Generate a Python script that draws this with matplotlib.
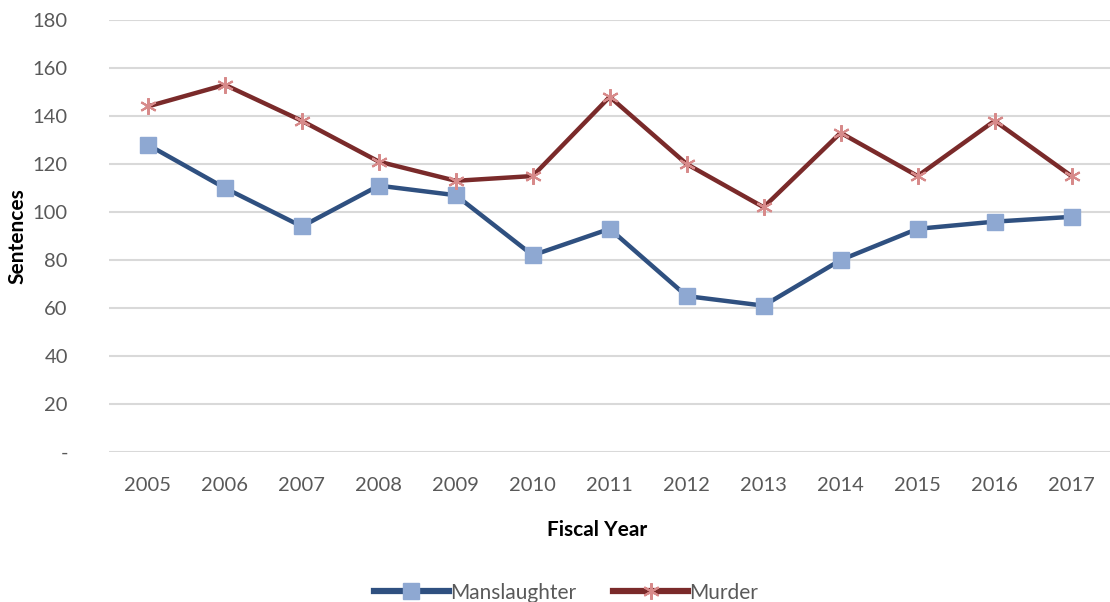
import matplotlib.pyplot as plt
from matplotlib.ticker import FuncFormatter

plt.rcParams["font.family"] = ["Lato", "DejaVu Sans"]

years = ["2005", "2006", "2007", "2008", "2009", "2010", "2011",
         "2012", "2013", "2014", "2015", "2016", "2017"]
manslaughter = [128, 110, 94, 111, 107, 82, 93, 65, 61, 80, 93, 96, 98]
murder = [144, 153, 138, 121, 113, 115, 148, 120, 102, 133, 115, 138, 115]
yticks = [0, 20, 40, 60, 80, 100, 120, 140, 160, 180]


def main():
    fig = plt.figure(figsize=(11.1, 6.02), dpi=100)
    ax = fig.add_axes([0.0986, 0.249, 0.9014, 0.7178])

    x = range(len(years))
    ax.plot(x, manslaughter, color="#2F5080", lw=3.2, marker="s", ms=11,
            mfc="#8EA8D2", mec="#8EA8D2", label="Manslaughter", zorder=3)
    ax.plot(x, murder, color="#7A2A2A", lw=3.2, marker=(6, 2, 0), ms=12,
            mec="#D78A8A", mew=1.5, label="Murder", zorder=3)

    ax.set_xlim(-0.5, len(years) - 0.5)
    ax.set_ylim(0, 180)
    ax.set_xticks(list(x))
    ax.set_xticklabels(years)
    ax.set_yticks(yticks)
    ax.yaxis.set_major_formatter(FuncFormatter(lambda v, p: "-" if v == 0 else f"{int(v)}"))
    ax.grid(axis="y", color="#D9D9D9", lw=1.5)
    ax.set_axisbelow(True)
    for s in ax.spines.values():
        s.set_visible(False)
    ax.tick_params(length=0, labelsize=14.5, labelcolor="#595959")
    ax.tick_params(axis="x", pad=18)
    ax.tick_params(axis="y", pad=30)

    ax.set_xlabel("Fiscal Year", fontsize=15, fontweight="bold")
    ax.xaxis.set_label_coords(0.487, -0.157)
    ax.set_ylabel("Sentences", fontsize=15, fontweight="bold")
    ax.yaxis.set_label_coords(-0.082, 0.5)

    leg = fig.legend(loc="lower center", bbox_to_anchor=(0.51, -0.032), ncol=2,
                     frameon=False, fontsize=15, handlelength=3.6, columnspacing=1.8,
                     handletextpad=0.05, labelcolor="#595959")
    for h in leg.get_lines():
        h.set_linewidth(4.5)

    fig.savefig("out.png", dpi=100)
    plt.close(fig)


if __name__ == "__main__":
    main()
